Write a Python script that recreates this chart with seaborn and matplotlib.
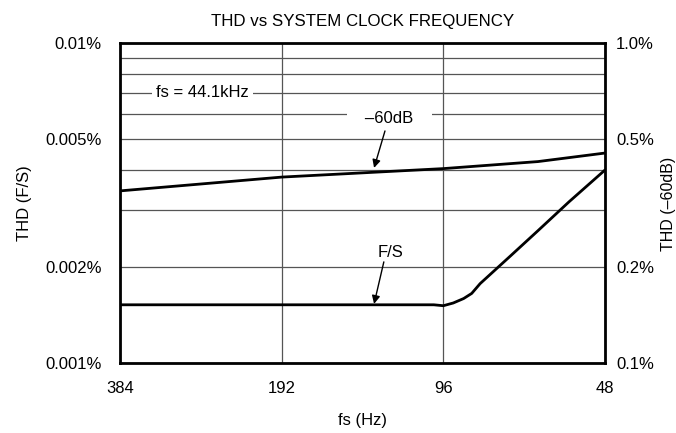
import numpy as np
import pandas as pd
import seaborn as sns
import matplotlib
matplotlib.use('Agg')
import matplotlib.pyplot as plt

# system clock (x) and THD values
fs_fs = [384, 192, 110, 100, 96, 92, 88, 85, 82, 72, 64, 56, 48]
thd_fs = [0.00152, 0.00152, 0.00152, 0.00152, 0.00151, 0.00154, 0.00159,
          0.00165, 0.00177, 0.00216, 0.00259, 0.00319, 0.00401]

fs_60 = [384, 192, 96, 64, 48]
thd_60 = [0.345, 0.381, 0.405, 0.426, 0.453]

x_ticks = [384, 192, 96, 48]
left_ticks = [0.001, 0.002, 0.003, 0.004, 0.005, 0.006, 0.007, 0.008, 0.009, 0.01]
left_labels = ['0.001%', '0.002%', '', '', '0.005%', '', '', '', '', '0.01%']
right_ticks = [0.1, 0.2, 0.5, 1.0]
right_labels = ['0.1%', '0.2%', '0.5%', '1.0%']

sns.set_theme(style='white')
plt.rcParams['font.family'] = ['Liberation Sans', 'DejaVu Sans']
plt.rcParams['axes.unicode_minus'] = False
for k in ['text.color', 'axes.labelcolor', 'xtick.color', 'ytick.color']:
    plt.rcParams[k] = 'black'

df_fs = pd.DataFrame({'fs': fs_fs, 'thd': thd_fs})
df_60 = pd.DataFrame({'fs': fs_60, 'thd': thd_60})

fig = plt.figure(figsize=(6.76, 4.33), dpi=100)
ax = fig.add_axes([0.1775, 0.1617, 0.7175, 0.739])

sns.lineplot(data=df_fs, x='fs', y='thd', ax=ax, color='black', lw=2)
ax.set_xscale('log', base=2)
ax.set_yscale('log')
ax.set_xlim(384, 48)
ax.set_ylim(0.001, 0.01)
ax.set_xticks(x_ticks)
ax.set_xticklabels([str(v) for v in x_ticks], fontsize=12)
ax.set_yticks(left_ticks)
ax.set_yticklabels(left_labels, fontsize=12)
ax.minorticks_off()
ax.tick_params(axis='x', length=0, pad=13)
ax.tick_params(axis='y', length=0, pad=13)
ax.grid(True, color='#555555', lw=0.9)
ax.set_xlabel('fs (Hz)', fontsize=12, labelpad=12)
ax.set_ylabel('THD (F/S)', fontsize=12, labelpad=10)
ax.set_title('THD vs SYSTEM CLOCK FREQUENCY', fontsize=12.2, pad=12)
for s in ax.spines.values():
    s.set_color('black')
    s.set_linewidth(2)

ax2 = ax.twinx()
sns.lineplot(data=df_60, x='fs', y='thd', ax=ax2, color='black', lw=2)
ax2.set_yscale('log')
ax2.set_ylim(0.1, 1.0)
ax2.set_yticks(right_ticks)
ax2.set_yticklabels(right_labels, fontsize=12)
ax2.minorticks_off()
ax2.tick_params(axis='y', length=0, pad=8)
ax2.set_ylabel('')
ax2.grid(False)
for s in ax2.spines.values():
    s.set_visible(False)
fig.text(669 / 676, 1 - 204 / 433, 'THD (\u201360dB)', fontsize=11.5,
         rotation=90, ha='center', va='center')

box = dict(boxstyle='square,pad=0.25', fc='white', ec='none')
ax.text(270, 0.007, 'fs = 44.1kHz', fontsize=12, ha='center', va='center', bbox=box)
ax.text(121, 0.0058, '   \u201360dB   ', fontsize=12, ha='center', va='center', bbox=box)
ax.annotate('', xy=(129.2, 0.00407), xytext=(123.3, 0.00531),
            arrowprops=dict(arrowstyle='-|>', color='black', lw=1, shrinkA=0, shrinkB=0,
                            mutation_scale=12))
ax.text(120.6, 0.00222, 'F/S', fontsize=12, ha='center', va='center')
ax.annotate('', xy=(129.2, 0.00153), xytext=(123.9, 0.00207),
            arrowprops=dict(arrowstyle='-|>', color='black', lw=1, shrinkA=0, shrinkB=0,
                            mutation_scale=12))

fig.savefig('out.png', dpi=100)
